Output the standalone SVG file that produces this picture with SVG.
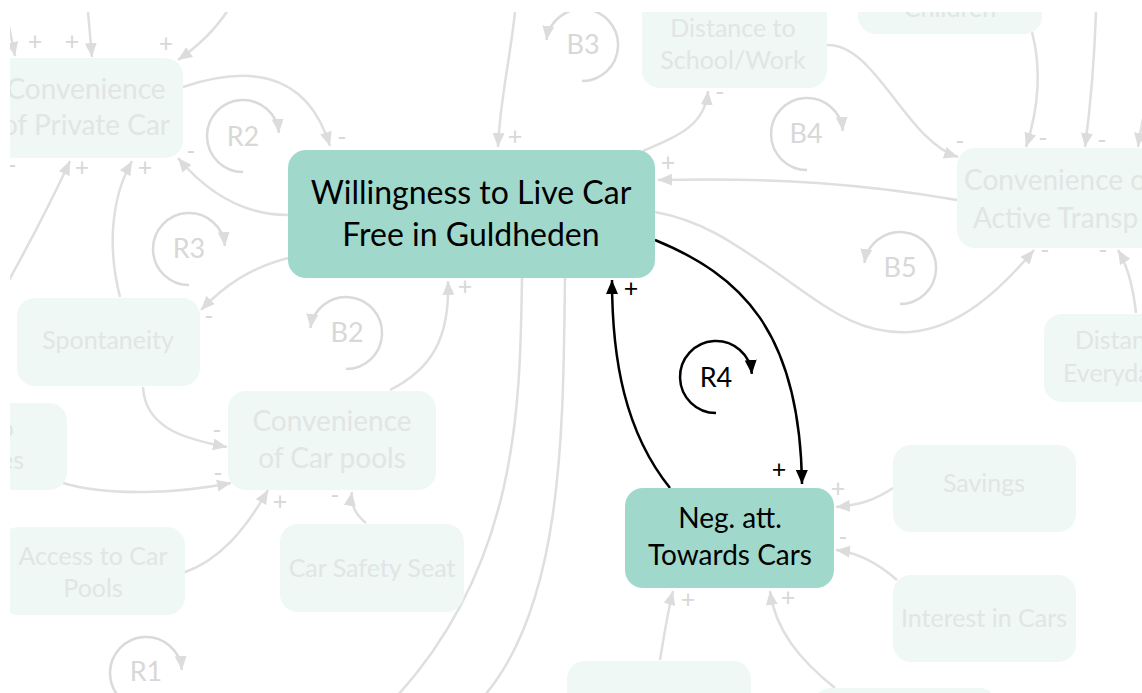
<svg xmlns="http://www.w3.org/2000/svg" width="1142" height="693" viewBox="0 0 1142 693">
  <style>
    .nf { fill: #eff8f5; }
    .nm { fill: #a0d9cc; }
    .tf { font-family: Lato, "Liberation Sans", sans-serif; font-size: 25px; fill: #e1e5e4; text-anchor: middle; }
    .tfl { font-size: 28px; }
    .tm { font-family: Lato, "Liberation Sans", sans-serif; font-size: 32px; fill: #000; text-anchor: middle; }
    .tn { font-family: Lato, "Liberation Sans", sans-serif; font-size: 28px; fill: #000; text-anchor: middle; }
    .cf { fill: none; stroke: #dfdfdf; stroke-width: 2.5; marker-end: url(#af); }
    .cl { fill: none; stroke: #dfdfdf; stroke-width: 2.5; }
    .cb { fill: none; stroke: #000; stroke-width: 2.5; marker-end: url(#ab); }
    .lf { font-family: Lato, "Liberation Sans", sans-serif; font-size: 25px; fill: #d8d8d8; text-anchor: middle; }
    .lb { font-family: Lato, "Liberation Sans", sans-serif; font-size: 25px; fill: #000; text-anchor: middle; }
    .loopf { fill: none; stroke: #dadada; stroke-width: 2.5; marker-end: url(#af); }
    .loopb { fill: none; stroke: #000; stroke-width: 2.5; marker-end: url(#ab); }
    .ltf { font-family: Lato, "Liberation Sans", sans-serif; font-size: 27px; fill: #d8d8d8; text-anchor: middle; }
    .ltb { font-family: Lato, "Liberation Sans", sans-serif; font-size: 27px; fill: #000; text-anchor: middle; }
  </style>
  <defs>
    <marker id="af" markerUnits="userSpaceOnUse" markerWidth="14" markerHeight="12" refX="14" refY="6" orient="auto">
      <path d="M0,0 L14,6 L0,12 z" fill="#dcdcdc"/>
    </marker>
    <marker id="ab" markerUnits="userSpaceOnUse" markerWidth="14" markerHeight="12" refX="14" refY="6" orient="auto">
      <path d="M0,0 L14,6 L0,12 z" fill="#000"/>
    </marker>
    <clipPath id="view">
      <rect x="10" y="12" width="1132" height="681"/>
    </clipPath>
  </defs>
  <rect width="1142" height="693" fill="#fff"/>
  <g clip-path="url(#view)">
    <!-- background connectors -->
    <g id="connectors-faded">
      <path class="cf" d="M6 12 L15 56"/>
      <path class="cf" d="M88 12 L92 57"/>
      <path class="cf" d="M228 10 Q210 38 178 60"/>
      <path class="cf" d="M183 87 C240 68 305 65 330 146"/>
      <path class="cf" d="M288 215 C240 215 205 190 178 158"/>
      <path class="cf" d="M8 282 Q45 215 70 161"/>
      <path class="cf" d="M120 297 C108 250 110 200 132 161"/>
      <path class="cf" d="M515 12 C510 60 500 100 498 147"/>
      <path class="cf" d="M643 151 C680 135 705 125 708 91"/>
      <path class="cf" d="M957 200 C870 185 780 177 658 180"/>
      <path class="cf" d="M826 45 C875 42 905 140 958 157"/>
      <path class="cf" d="M1032 32 C1042 70 1038 110 1026 147"/>
      <path class="cf" d="M1096 12 C1094 70 1090 110 1085 147"/>
      <path class="cf" d="M1160 60 Q1145 100 1138 147"/>
      <path class="cf" d="M655 212 C700 220 730 240 780 275 C830 310 860 335 910 332 C960 328 1000 290 1034 250"/>
      <path class="cf" d="M1136 313 C1133 285 1127 265 1118 250"/>
      <path class="cf" d="M288 258 C250 268 225 285 201 310"/>
      <path class="cf" d="M143 387 C145 430 190 440 227 447"/>
      <path class="cf" d="M63 483 C110 497 180 493 231 483"/>
      <path class="cf" d="M183 573 C220 560 245 530 268 490"/>
      <path class="cf" d="M366 523 C356 515 350 505 352 492"/>
      <path class="cf" d="M390 390 C430 370 450 340 448 281"/>
      <path class="cl" d="M522 278 C520 400 520 560 398 695"/>
      <path class="cl" d="M565 278 C563 420 565 600 485 695"/>
      <path class="cf" d="M660 660 C665 630 668 610 673 591"/>
      <path class="cf" d="M835 688 C800 660 775 630 770 591"/>
      <path class="cf" d="M893 488 C875 500 860 505 836 507"/>
      <path class="cf" d="M897 580 C880 565 860 553 836 550"/>
    </g>
    <!-- polarity signs on background links -->
    <g id="signs-faded">
      <text class="lf" x="35" y="50">+</text>
      <text class="lf" x="72" y="50">+</text>
      <text class="lf" x="166" y="52">+</text>
      <text class="lf" x="342" y="146">-</text>
      <text class="lf" x="191" y="160">-</text>
      <text class="lf" x="82" y="176">+</text>
      <text class="lf" x="145" y="176">+</text>
      <text class="lf" x="12" y="174">-</text>
      <text class="lf" x="515" y="145">+</text>
      <text class="lf" x="720" y="101">-</text>
      <text class="lf" x="668" y="171">+</text>
      <text class="lf" x="960" y="150">-</text>
      <text class="lf" x="1043" y="147">-</text>
      <text class="lf" x="1102" y="149">-</text>
      <text class="lf" x="1045" y="259">-</text>
      <text class="lf" x="1103" y="259">-</text>
      <text class="lf" x="209" y="325">-</text>
      <text class="lf" x="217" y="439">-</text>
      <text class="lf" x="218" y="482">-</text>
      <text class="lf" x="280" y="510">+</text>
      <text class="lf" x="335" y="504">-</text>
      <text class="lf" x="465" y="295">+</text>
      <text class="lf" x="688" y="608">+</text>
      <text class="lf" x="788" y="606">+</text>
      <text class="lf" x="838" y="497">+</text>
      <text class="lf" x="843" y="546">-</text>
    </g>
    <!-- loop markers -->
    <g id="loops-faded">
      <path class="loopf" d="M243 172 A36 36 0 1 1 278.9 132.9"/>
      <text class="ltf" x="243" y="146">R2</text>
      <path class="loopf" d="M582 81 A36 36 0 1 0 546.4 40"/>
      <text class="ltf" x="583" y="54">B3</text>
      <path class="loopf" d="M807 170 A36 36 0 1 1 842.9 130.9"/>
      <text class="ltf" x="806" y="143">B4</text>
      <path class="loopf" d="M189 285 A36 36 0 1 1 224.9 245.9"/>
      <text class="ltf" x="189" y="258">R3</text>
      <path class="loopf" d="M346 369 A36 36 0 1 0 310.4 328"/>
      <text class="ltf" x="347" y="342">B2</text>
      <path class="loopf" d="M900 304 A36 36 0 1 0 864.4 263"/>
      <text class="ltf" x="900" y="277">B5</text>
      <path class="loopf" d="M146 709 A36 36 0 1 1 181.9 669.9"/>
      <text class="ltf" x="146" y="681">R1</text>
    </g>
    <!-- background nodes -->
    <g id="conv-private-car">
      <rect class="nf" x="-7" y="58" width="190" height="100" rx="18"/>
      <text class="tf tfl" x="86" y="99">Convenience</text>
      <text class="tf tfl" x="86" y="135">of Private Car</text>
    </g>
    <g id="distance-school-work">
      <rect class="nf" x="642" y="-12" width="185" height="100" rx="18"/>
      <text class="tf" x="733" y="37">Distance to</text>
      <text class="tf" x="733" y="69">School/Work</text>
    </g>
    <g id="children">
      <rect class="nf" x="858" y="-60" width="184" height="94" rx="18"/>
      <text class="tf" x="950" y="17">Children</text>
    </g>
    <g id="conv-active-transport">
      <rect class="nf" x="957" y="148" width="220" height="100" rx="18"/>
      <text class="tf tfl" x="964" y="190" style="text-anchor:start">Convenience o</text>
      <text class="tf tfl" x="973" y="228" style="text-anchor:start">Active Transp</text>
    </g>
    <g id="distance-everyday">
      <rect class="nf" x="1044" y="314" width="140" height="88" rx="18"/>
      <text class="tf" x="1075" y="349" style="text-anchor:start">Distan</text>
      <text class="tf" x="1063" y="382" style="text-anchor:start">Everyda</text>
    </g>
    <g id="spontaneity">
      <rect class="nf" x="17" y="298" width="183" height="88" rx="18"/>
      <text class="tf" x="108" y="349">Spontaneity</text>
    </g>
    <g id="left-node">
      <rect class="nf" x="-120" y="403" width="187" height="87" rx="18"/>
      <text class="tf" x="14" y="437" style="text-anchor:end">o</text>
      <text class="tf" x="24" y="469" style="text-anchor:end">es</text>
    </g>
    <g id="conv-car-pools">
      <rect class="nf" x="228" y="391" width="208" height="99" rx="18"/>
      <text class="tf tfl" x="332" y="431">Convenience</text>
      <text class="tf tfl" x="332" y="468">of Car pools</text>
    </g>
    <g id="access-car-pools">
      <rect class="nf" x="1" y="527" width="184" height="88" rx="18"/>
      <text class="tf" x="93" y="565">Access to Car</text>
      <text class="tf" x="93" y="597">Pools</text>
    </g>
    <g id="car-safety-seat">
      <rect class="nf" x="280" y="524" width="184" height="88" rx="18"/>
      <text class="tf" x="372" y="577">Car Safety Seat</text>
    </g>
    <g id="savings">
      <rect class="nf" x="893" y="445" width="183" height="87" rx="18"/>
      <text class="tf" x="984" y="492">Savings</text>
    </g>
    <g id="interest-in-cars">
      <rect class="nf" x="893" y="575" width="183" height="87" rx="18"/>
      <text class="tf" x="984" y="627">Interest in Cars</text>
    </g>
    <g id="bottom-node-1">
      <rect class="nf" x="567" y="661" width="184" height="88" rx="18"/>
    </g>
    <g id="bottom-node-2">
      <rect class="nf" x="813" y="688" width="184" height="88" rx="18"/>
    </g>

    <!-- highlighted loop R4 -->
    <g id="connectors">
      <path class="cb" d="M655 240 C740 275 800 330 802 484"/>
      <path class="cb" d="M670 488 C625 432 612 360 612 280"/>
      <text class="lb" x="631" y="297">+</text>
      <text class="lb" x="779" y="478">+</text>
    </g>
    <g id="loop-r4">
      <path class="loopb" d="M716 413 A36 36 0 1 1 751.9 373.9"/>
      <text class="ltb" x="716" y="387">R4</text>
    </g>
    <g id="willingness">
      <rect class="nm" x="288" y="150" width="367" height="128" rx="18"/>
      <text class="tm" x="471" y="204">Willingness to Live Car</text>
      <text class="tm" x="471" y="246">Free in Guldheden</text>
    </g>
    <g id="neg-att">
      <rect class="nm" x="625" y="488" width="209" height="100" rx="18"/>
      <text class="tn" x="730" y="528">Neg. att.</text>
      <text class="tn" x="730" y="565">Towards Cars</text>
    </g>
  </g>
</svg>
